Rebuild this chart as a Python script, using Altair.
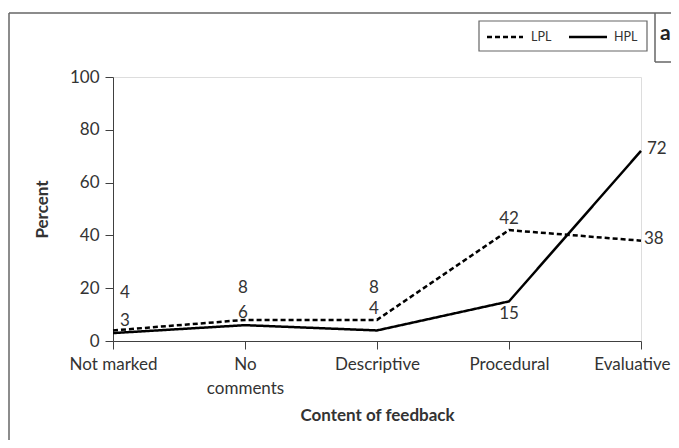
import altair as alt
import pandas as pd

# ---- data ----
categories = ["Not marked", "No comments", "Descriptive", "Procedural", "Evaluative"]
lpl = [4, 8, 8, 42, 38]
hpl = [3, 6, 4, 15, 72]
series_names = ["LPL", "HPL"]

# ---- label placement styles (pixel offsets, align) ----
lpl_label_style = [(12, -37, "center"), (-2, -32, "center"), (-3, -32, "center"), (0, -11, "center"), (3, -2, "left")]
hpl_label_style = [(12, -12, "center"), (-2, -12, "center"), (-3, -21, "center"), (0, 13, "center"), (6, -2, "left")]

FONT = "Lato"
TXT = "#333333"
FRAME = "#666666"

rows = []
for i, c in enumerate(categories):
    rows.append({"cat": c, "series": "LPL", "value": lpl[i], "idx": i})
    rows.append({"cat": c, "series": "HPL", "value": hpl[i], "idx": i})
df = pd.DataFrame(rows)

W, H = 528, 264
last_test = "datum.label == '" + categories[-1] + "'"

x_enc = alt.X(
    "cat:N",
    sort=categories,
    scale=alt.Scale(type="point", padding=0),
    axis=alt.Axis(
        title="Content of feedback",
        titleFont=FONT, titleFontSize=17, titleFontWeight="bold", titleColor=TXT,
        titleX=W / 2, titleY=74, titleBaseline="middle",
        labelFont=FONT, labelFontSize=17, labelColor=TXT, labelAngle=0,
        labelBaseline="top", labelPadding=7, labelLineHeight=24,
        labelAlign={"condition": {"test": last_test, "value": "right"}, "value": "center"},
        labelOffset={"condition": {"test": last_test, "value": 29}, "value": 0},
        labelExpr="datum.label == 'No comments' ? ['No', 'comments'] : datum.label",
        tickSize=8, tickColor="#404040", domainColor="#404040", labelOverlap=False,
        labelFlush=False,
    ),
)
y_enc = alt.Y(
    "value:Q",
    scale=alt.Scale(domain=[0, 100], nice=False),
    axis=alt.Axis(
        title="Percent", values=[0, 20, 40, 60, 80, 100],
        titleFont=FONT, titleFontSize=17, titleFontWeight="bold", titleColor=TXT,
        titleX=-71, titleY=H / 2, titleBaseline="middle", titleAngle=-90,
        labelFont=FONT, labelFontSize=17, labelColor=TXT, labelPadding=6,
        tickSize=8, tickColor="#404040", domainColor="#404040", grid=False,
    ),
)

lines = alt.Chart(df).mark_line(color="black", strokeWidth=2.5).encode(
    x=x_enc,
    y=y_enc,
    strokeDash=alt.StrokeDash(
        "series:N",
        scale=alt.Scale(domain=series_names, range=[[5, 3], [1, 0]]),
        legend=None,
    ),
    detail="series:N",
)

labels = []
for s_name, styles in (("LPL", lpl_label_style), ("HPL", hpl_label_style)):
    for i, (dx, dy, align) in enumerate(styles):
        labels.append(
            alt.Chart(df).transform_filter(
                (alt.datum.series == s_name) & (alt.datum.idx == i)
            ).mark_text(font=FONT, fontSize=17, color=TXT, dx=dx, dy=dy, align=align, baseline="middle")
            .encode(x=alt.X("cat:N", sort=categories), y="value:Q", text="value:Q")
        )

one = pd.DataFrame({"k": [0]})
frame_left = alt.Chart(one).mark_rule(color=FRAME, strokeWidth=1.5).encode(
    x=alt.value(-104), y=alt.value(-64), y2=alt.value(400))
frame_top = alt.Chart(one).mark_rule(color=FRAME, strokeWidth=1.5).encode(
    x=alt.value(-104), x2=alt.value(600), y=alt.value(-64))
abox_left = alt.Chart(one).mark_rule(color=FRAME, strokeWidth=1.5).encode(
    x=alt.value(542), y=alt.value(-64), y2=alt.value(-15))
abox_bottom = alt.Chart(one).mark_rule(color=FRAME, strokeWidth=1.5).encode(
    x=alt.value(542), x2=alt.value(600), y=alt.value(-15))
a_text = alt.Chart(one).mark_text(
    text="a", font=FONT, fontSize=21, fontWeight="bold", color="#222222",
    align="left", baseline="middle").encode(x=alt.value(547), y=alt.value(-43))

# manual legend (box, line samples, labels)
leg_box = alt.Chart(one).mark_rect(fill="white", stroke=FRAME, strokeWidth=1.2).encode(
    x=alt.value(366), x2=alt.value(534), y=alt.value(-56), y2=alt.value(-26))
leg_dash = alt.Chart(one).mark_rule(color="black", strokeWidth=2.5, strokeDash=[5, 3]).encode(
    x=alt.value(374), x2=alt.value(410), y=alt.value(-40))
leg_solid = alt.Chart(one).mark_rule(color="black", strokeWidth=2.5).encode(
    x=alt.value(456), x2=alt.value(494), y=alt.value(-40))
leg_t1 = alt.Chart(one).mark_text(text=series_names[0], font=FONT, fontSize=12.5, color=TXT,
    align="left", baseline="middle").encode(x=alt.value(418), y=alt.value(-40))
leg_t2 = alt.Chart(one).mark_text(text=series_names[1], font=FONT, fontSize=12.5, color=TXT,
    align="left", baseline="middle").encode(x=alt.value(501), y=alt.value(-40))

chart = alt.layer(
    frame_left, frame_top, abox_left, abox_bottom, a_text,
    leg_box, leg_dash, leg_solid, leg_t1, leg_t2,
    lines, *labels
).properties(
    width=W, height=H,
    autosize=alt.AutoSizeParams(type="none"),
    padding={"left": 105, "top": 69, "right": 30, "bottom": 99},
).configure_view(stroke=None).configure(background="white")

chart.save("out.html", embed_options={"renderer": "svg", "actions": False})
